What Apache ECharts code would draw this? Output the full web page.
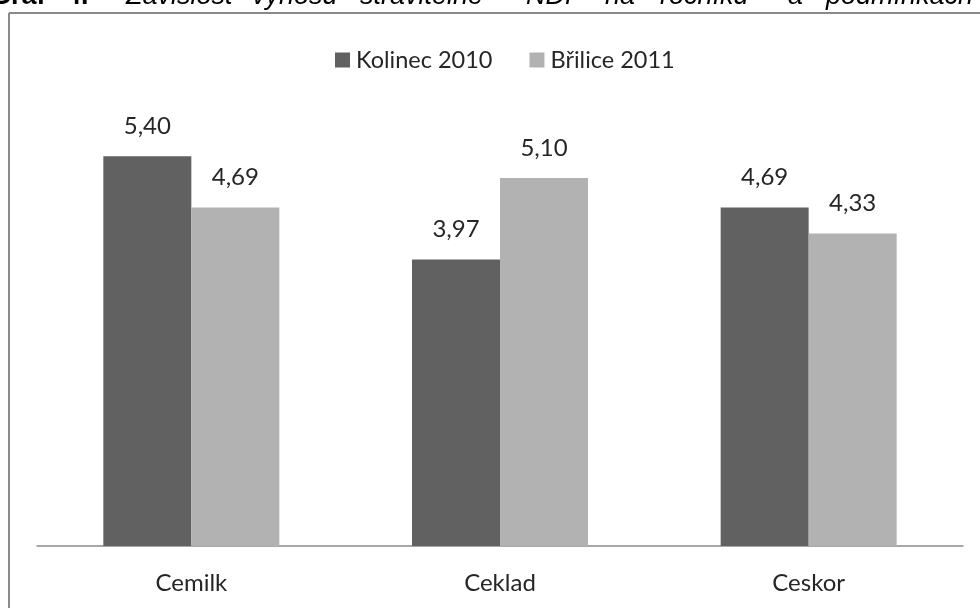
<!DOCTYPE html>
<html>
<head>
<meta charset="utf-8">
<script src="https://cdn.jsdelivr.net/npm/echarts@6/dist/echarts.min.js"></script>
<style>
  html, body { margin: 0; padding: 0; background: #fff; }
  #chart { width: 980px; height: 608px; }
</style>
</head>
<body>
<div id="chart"></div>
<script>
// Varieties on the category axis
const categories = ['Cemilk', 'Ceklad', 'Ceskor'];
// Yield of digestible NDF per locality and year
const kolinec2010 = [5.40, 3.97, 4.69];
const brilice2011 = [4.69, 5.10, 4.33];
const seriesNames = ['Kolinec 2010', 'Břilice 2011'];

// Caption words above the chart frame (justified line, partly clipped at the top)
const captionWords = [
  { t: 'Graf', x: -10, bold: true },
  { t: '4.', x: 66, bold: true },
  { t: 'Závislost', x: 126 },
  { t: 'výnosu', x: 252 },
  { t: 'stravitelné', x: 360 },
  { t: 'NDF', x: 526 },
  { t: 'na', x: 605 },
  { t: 'ročníku', x: 660 },
  { t: 'a', x: 788 },
  { t: 'podmínkách', x: 826 }
];

const fmt = v => v.toFixed(2).replace('.', ',');
const FONT = 'Lato';
const TEXT = '#262626';

const chart = echarts.init(document.getElementById('chart'), null, { renderer: 'canvas' });

const labelStyle = {
  show: true,
  position: 'top',
  distance: 18,
  fontFamily: FONT,
  fontSize: 24,
  color: TEXT,
  formatter: p => fmt(p.value)
};

// Chart frame: only its top and left edges fall inside the page
const frame = [
  { x1: 9, y1: 13, x2: 980, y2: 13 },
  { x1: 9, y1: 13, x2: 9, y2: 608 }
].map(s => ({
  type: 'line',
  silent: true,
  z: 100,
  shape: s,
  style: { stroke: '#8a8a8a', lineWidth: 2 }
}));

const caption = captionWords.map(w => ({
  type: 'text',
  silent: true,
  x: w.x,
  y: -17,
  style: {
    text: w.t,
    font: (w.bold ? 'bold ' : 'italic ') + '27px "Liberation Sans", Arial, sans-serif',
    fill: '#000',
    verticalAlign: 'top'
  }
}));

chart.setOption({
  animation: false,
  backgroundColor: '#ffffff',
  textStyle: { fontFamily: FONT },
  graphic: frame.concat(caption),
  legend: {
    data: seriesNames,
    top: 43,
    left: 330,
    itemWidth: 15,
    itemHeight: 15,
    itemGap: 37,
    icon: 'rect',
    textStyle: { fontFamily: FONT, fontSize: 23.5, color: TEXT, padding: [0, 0, 0, 1] }
  },
  grid: { left: 37, right: 17, top: 113, bottom: 62, containLabel: false },
  xAxis: {
    type: 'category',
    data: categories,
    axisLine: { lineStyle: { color: '#8c8c8c', width: 1.5 } },
    axisTick: { show: false },
    axisLabel: { fontFamily: FONT, fontSize: 24, color: TEXT, margin: 25 }
  },
  yAxis: {
    type: 'value',
    min: 0,
    max: 6,
    interval: 1,
    show: false,
    splitLine: { show: false }
  },
  series: [
    {
      name: seriesNames[0],
      type: 'bar',
      data: kolinec2010,
      barWidth: 88,
      barGap: '0%',
      itemStyle: { color: '#616161' },
      label: labelStyle
    },
    {
      name: seriesNames[1],
      type: 'bar',
      data: brilice2011,
      barWidth: 88,
      barGap: '0%',
      itemStyle: { color: '#b2b2b2' },
      label: labelStyle
    }
  ]
});
</script>
</body>
</html>
